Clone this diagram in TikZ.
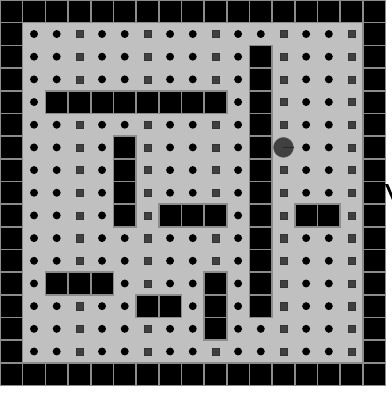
\documentclass[tikz,border=0pt]{standalone}
\usepackage{tikz}

\definecolor{floorgray}{RGB}{192,192,192}
\definecolor{pelletgray}{RGB}{64,64,64}
\definecolor{seamgray}{RGB}{140,140,140}

\tikzset{
    cell-X/.style={rectangle, fill=black, draw=seamgray, line width=1.2pt,
        minimum size=0.6cm, inner sep=0pt},
    cell-o/.style={circle, fill=black, minimum size=0.21cm, inner sep=0pt},
    cell-q/.style={rectangle, fill=pelletgray, draw=black!80, line width=0.3pt,
        minimum size=0.19cm, inner sep=0pt},
    cell-P/.style={circle, fill=pelletgray, draw=black!60, line width=0.3pt,
        minimum size=0.53cm, inner sep=0pt},
    mouth/.style={draw=black!85, line width=0.5pt}
}

\begin{document}
\begin{tikzpicture}[x=0.6cm, y=0.6cm]
    % Page size
    \useasboundingbox (0,0) rectangle (17.28,-17.33);

    % Floor
    \fill[floorgray] (1,-1) rectangle (16,-16);

    % Outer walls
    \foreach \i in {0,...,16} {
        \node[cell-X] (top\i) at (\i+0.5,-0.5) {};
        \node[cell-X] (bot\i) at (\i+0.5,-16.5) {};
    }
    \foreach \i in {1,...,15} {
        \node[cell-X] (left\i) at (0.5,-\i-0.5) {};
        \node[cell-X] (right\i) at (16.5,-\i-0.5) {};
    }

    % Maze: o = dot, q = square, X = wall, P = player
    \foreach \cells [count=\r] in {
        {o,o,q,o,o,q,o,o,q,o,o,q,o,o,q},
        {o,o,q,o,o,q,o,o,q,o,X,q,o,o,q},
        {o,o,q,o,o,q,o,o,q,o,X,q,o,o,q},
        {o,X,X,X,X,X,X,X,X,o,X,q,o,o,q},
        {o,o,q,o,o,q,o,o,q,o,X,q,o,o,q},
        {o,o,q,o,X,q,o,o,q,o,X,P,o,o,q},
        {o,o,q,o,X,q,o,o,q,o,X,q,o,o,q},
        {o,o,q,o,X,q,o,o,q,o,X,q,o,o,q},
        {o,o,q,o,X,q,X,X,X,o,X,q,X,X,q},
        {o,o,q,o,o,q,o,o,q,o,X,q,o,o,q},
        {o,o,q,o,o,q,o,o,q,o,X,q,o,o,q},
        {o,X,X,X,o,q,o,o,X,o,X,q,o,o,q},
        {o,o,q,o,o,X,X,o,X,o,X,q,o,o,q},
        {o,o,q,o,o,q,o,o,X,o,o,q,o,o,q},
        {o,o,q,o,o,q,o,o,q,o,o,q,o,o,q}} {
        \foreach \k [count=\c] in \cells {
            \node[cell-\k] (c\r-\c) at (\c+0.5,-\r-0.5) {};
        }
    }

    % Player facing right
    \draw[mouth] (c6-12.center) -- (c6-12.east);

    % Cut-off mark at the right edge
    \fill (16.98,-8.12) -- (17.12,-8.12) -- (17.30,-8.55) -- (17.30,-8.85) -- cycle;
\end{tikzpicture}
\end{document}
